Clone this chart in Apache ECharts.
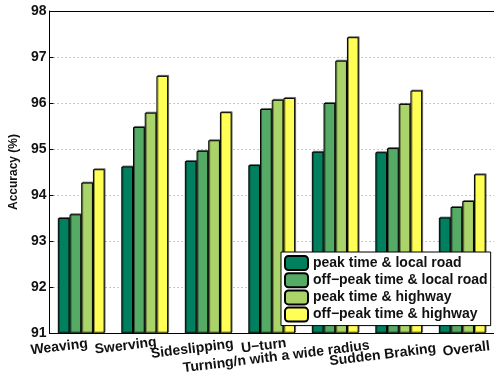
<!DOCTYPE html>
<html>
<head>
<meta charset="utf-8">
<script src="https://cdn.jsdelivr.net/npm/echarts@6/dist/echarts.min.js"></script>
<style>html,body{margin:0;padding:0;background:#fff}#c{width:494px;height:381px}</style>
</head>
<body>
<div id="c"></div>
<script>
var categories = ['Weaving', 'Swerving', 'Sideslipping', 'U\u2212turn', 'Turning/n with a wide radius', 'Sudden Braking', 'Overall'];
var seriesNames = ['peak time & local road', 'off\u2212peak time & local road', 'peak time & highway', 'off\u2212peak time & highway'];
var peakLocal    = [93.50, 94.62, 94.74, 94.65, 94.94, 94.93, 93.51];
var offpeakLocal = [93.58, 95.48, 94.96, 95.87, 96.00, 95.02, 93.74];
var peakHighway  = [94.27, 95.79, 95.19, 96.07, 96.92, 95.98, 93.87];
var offpeakHighway = [94.56, 96.59, 95.80, 96.11, 97.43, 96.27, 94.45];
var yTicks = [91, 92, 93, 94, 95, 96, 97, 98];

var colors = ['#00805f', '#55aa66', '#aad46a', '#ffff55'];
// label placement offsets (dx, dy) relative to tick / axis
var labelOffsets = [[-22, 14], [-19, 13], [-16, 16], [-8, 13], [-59, 24], [-16, 22], [4, 16]];

var chart = echarts.init(document.getElementById('c'));
var values = [peakLocal, offpeakLocal, peakHighway, offpeakHighway];
var font = 'Liberation Sans';
var series = values.map(function (v, i) {
  return {
    name: seriesNames[i], type: 'bar', data: v, barWidth: 11.7, barGap: '0%',
    itemStyle: { color: colors[i], borderColor: '#000', borderWidth: 1,
      shadowColor: 'rgba(0,0,0,0.45)', shadowOffsetX: 1, shadowOffsetY: -1, shadowBlur: 0 },
    emphasis: { disabled: true }
  };
});
chart.setOption({
  animation: false,
  grid: { left: 46, right: -2, top: 11, bottom: 48 },
  legend: {
    orient: 'vertical', left: 281, top: 252,
    itemWidth: 23, itemHeight: 14, itemGap: 1.2,
    padding: [3, 3, 3, 3],
    backgroundColor: '#fff', borderColor: '#000', borderWidth: 1,
    textStyle: { fontFamily: font, fontWeight: 'bold', fontSize: 14, lineHeight: 14, color: '#111' },
    data: seriesNames
  },
  xAxis: [{
    type: 'category', data: categories, position: 'bottom',
    axisLine: { lineStyle: { color: '#000', width: 1 } },
    axisTick: { inside: true, alignWithLabel: true, length: 4, lineStyle: { color: '#000' } },
    axisLabel: { show: false }
  }, {
    type: 'category', data: categories, position: 'top',
    axisLine: { lineStyle: { color: '#000', width: 1 } },
    axisTick: { inside: true, alignWithLabel: true, length: 4, lineStyle: { color: '#000' } },
    axisLabel: { show: false }
  }],
  yAxis: {
    type: 'value', min: yTicks[0], max: yTicks[yTicks.length - 1], interval: 1,
    name: 'Accuracy (%)', nameLocation: 'middle', nameGap: 25,
    nameTextStyle: { fontFamily: font, fontWeight: 'bold', fontSize: 12, color: '#111' },
    axisLine: { show: true, lineStyle: { color: '#000', width: 1 } },
    axisTick: { show: true, inside: true, length: 4, lineStyle: { color: '#000' } },
    axisLabel: { fontFamily: font, fontWeight: 'bold', fontSize: 14, color: '#111', margin: 3 },
    splitLine: { show: true, lineStyle: { color: '#b8b8b8', type: [1.5, 2.5], width: 1 } }
  },
  series: series
});

var yBase = chart.convertToPixel({ yAxisIndex: 0 }, yTicks[0]);
var texts = categories.map(function (c, i) {
  var x = chart.convertToPixel({ xAxisIndex: 0 }, c);
  return {
    type: 'text', x: x + labelOffsets[i][0], y: yBase + labelOffsets[i][1],
    rotation: 7 * Math.PI / 180,
    style: { text: c, align: 'center', verticalAlign: 'middle',
      font: 'bold 14px "Liberation Sans"', fill: '#111' },
    z: 10
  };
});
chart.setOption({ graphic: texts });
</script>
</body>
</html>
